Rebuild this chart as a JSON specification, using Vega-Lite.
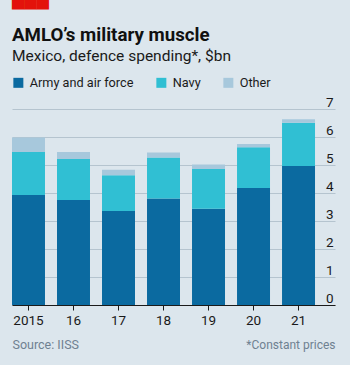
{
  "$schema": "https://vega.github.io/schema/vega-lite/v6.json",
  "autosize": {"type": "none"},
  "width": 323,
  "height": 196,
  "padding": {"left": 12, "top": 109, "right": 15, "bottom": 60},
  "background": "#dce6ed",
  "title": {
    "text": "AMLO’s military muscle",
    "subtitle": "Mexico, defence spending*, $bn",
    "anchor": "start",
    "frame": "group",
    "offset": -62,
    "font": "Roboto",
    "fontSize": 18.7,
    "fontWeight": "bold",
    "color": "#111111",
    "subtitleFont": "Roboto",
    "subtitleFontSize": 15.5,
    "subtitleColor": "#1a1a1a",
    "subtitlePadding": 4
  },
  "data": {
    "values": [
      {"year": "2015", "type": "Army and air force", "value": 3.93},
      {"year": "2015", "type": "Navy", "value": 1.53},
      {"year": "2015", "type": "Other", "value": 0.52},
      {"year": "16", "type": "Army and air force", "value": 3.75},
      {"year": "16", "type": "Navy", "value": 1.46},
      {"year": "16", "type": "Other", "value": 0.25},
      {"year": "17", "type": "Army and air force", "value": 3.36},
      {"year": "17", "type": "Navy", "value": 1.27},
      {"year": "17", "type": "Other", "value": 0.2},
      {"year": "18", "type": "Army and air force", "value": 3.8},
      {"year": "18", "type": "Navy", "value": 1.47},
      {"year": "18", "type": "Other", "value": 0.18},
      {"year": "19", "type": "Army and air force", "value": 3.44},
      {"year": "19", "type": "Navy", "value": 1.42},
      {"year": "19", "type": "Other", "value": 0.16},
      {"year": "20", "type": "Army and air force", "value": 4.18},
      {"year": "20", "type": "Navy", "value": 1.45},
      {"year": "20", "type": "Other", "value": 0.12},
      {"year": "21", "type": "Army and air force", "value": 4.96},
      {"year": "21", "type": "Navy", "value": 1.55},
      {"year": "21", "type": "Other", "value": 0.12}
    ]
  },
  "mark": {"type": "bar"},
  "encoding": {
    "x": {
      "field": "year",
      "type": "ordinal",
      "sort": null,
      "scale": {"paddingInner": 0.267, "paddingOuter": 0.222, "align": 0},
      "axis": {
        "title": "Source: IISS",
        "titleX": 0,
        "titleY": 43,
        "titleAlign": "left",
        "titleAnchor": "start",
        "titleBaseline": "alphabetic",
        "titleFont": "Roboto",
        "titleFontSize": 12.5,
        "titleFontWeight": "normal",
        "titleColor": "#6f8191",
        "labelAngle": 0,
        "labelFont": "Roboto",
        "labelFontSize": 13.5,
        "labelColor": "#1a1a1a",
        "labelPadding": 3,
        "domainColor": "#1a1a1a",
        "domainWidth": 1.2,
        "tickColor": "#1a1a1a",
        "tickSize": 5,
        "tickWidth": 1
      }
    },
    "y": {
      "field": "value",
      "type": "quantitative",
      "stack": "zero",
      "scale": {"domain": [0, 7]},
      "axis": {
        "orient": "right",
        "values": [0, 1, 2, 3, 4, 5, 6, 7],
        "title": "*Constant prices",
        "titleAngle": 0,
        "titleX": 0,
        "titleY": 239,
        "titleAlign": "right",
        "titleBaseline": "alphabetic",
        "titleFont": "Roboto",
        "titleFontSize": 12,
        "titleFontWeight": "normal",
        "titleColor": "#6f8191",
        "domain": false,
        "ticks": false,
        "tickSize": 0,
        "grid": true,
        "gridColor": "#b5c4cf",
        "gridWidth": 1,
        "labelAlign": "right",
        "labelBaseline": "alphabetic",
        "labelOffset": -3,
        "labelPadding": -2,
        "labelFont": "Roboto",
        "labelFontSize": 13.5,
        "labelColor": "#1a1a1a"
      }
    },
    "color": {
      "field": "type",
      "type": "nominal",
      "scale": {
        "domain": ["Army and air force", "Navy", "Other"],
        "range": ["#0b6aa0", "#30bfd3", "#a7c8dc"]
      },
      "legend": {
        "orient": "none",
        "legendX": 0,
        "legendY": -107,
        "direction": "horizontal",
        "title": "▀▀▀",
        "titleFont": "DejaVu Sans",
        "titleFontSize": 16,
        "titleColor": "#e3120b",
        "titlePadding": 58,
        "symbolType": "square",
        "symbolSize": 100,
        "symbolStrokeWidth": 0,
        "symbolOpacity": 1,
        "labelFont": "Roboto",
        "labelFontSize": 12.7,
        "labelColor": "#1a1a1a",
        "labelOffset": 5,
        "columnPadding": 21
      }
    },
    "order": {"field": "type", "sort": "ascending"}
  },
  "config": {
    "view": {"stroke": null}
  }
}
